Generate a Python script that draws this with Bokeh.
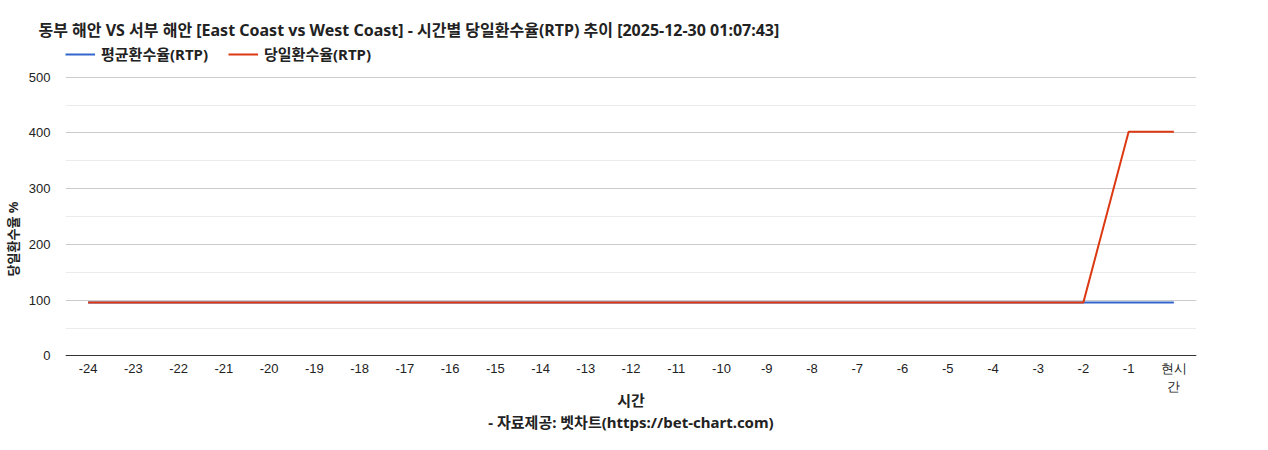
from bokeh.plotting import figure
from bokeh.models import Range1d, FixedTicker, Legend, LegendItem, Title, ColumnDataSource
from bokeh.embed import file_html
from bokeh.resources import INLINE

tick_labels = ["-24", "-23", "-22", "-21", "-20", "-19", "-18", "-17", "-16", "-15",
               "-14", "-13", "-12", "-11", "-10", "-9", "-8", "-7", "-6", "-5",
               "-4", "-3", "-2", "-1", "현시간"]
avg_rtp = [96, 96, 96, 96, 96, 96, 96, 96, 96, 96, 96, 96, 96, 96, 96, 96, 96, 96, 96, 96,
           96, 96, 96, 96, 96]
daily_rtp = [96, 96, 96, 96, 96, 96, 96, 96, 96, 96, 96, 96, 96, 96, 96, 96, 96, 96, 96, 96,
             96, 96, 96, 402, 402]
y_ticks = [0, 100, 200, 300, 400, 500]
y_minor = [50, 150, 250, 350, 450]
x_title = "시간"
footer_text = "- 자료제공: 벳차트(https://bet-chart.com)"

KR = "Noto Sans, Noto Sans CJK KR"
xs = list(range(len(tick_labels)))
src = ColumnDataSource(dict(x=xs, avg=avg_rtp, daily=daily_rtp))

# The frame spans from just above the legend to near the bottom of the figure; the x axis is
# pinned at y=0 so that the 0..500 grid occupies about the same pixels as in the reference.
GRID_H = 273      # pixels between 0 and 500
ABOVE_H = 33      # pixels of frame above the 500 line (legend area)
BELOW_H = 77      # pixels of frame below the 0 line (tick labels, axis title, footer)
y_start = -500 * BELOW_H / GRID_H
y_end = 500 * (GRID_H + ABOVE_H) / GRID_H

p = figure(width=1252, height=434, output_backend="svg", toolbar_location=None,
           x_range=Range1d(-0.5, len(tick_labels) - 0.5), y_range=Range1d(y_start, y_end),
           min_border_left=0, min_border_right=56, min_border_bottom=0, min_border_top=43)
p.outline_line_color = None
p.background_fill_color = "white"
p.border_fill_color = "white"

r_avg = p.line("x", "avg", source=src, line_color="#3366cc", line_width=2)
r_daily = p.line("x", "daily", source=src, line_color="#dc3912", line_width=2)

# axes
p.xaxis.fixed_location = 0
p.xaxis.ticker = FixedTicker(ticks=xs)
overrides = {}
for i, t in enumerate(tick_labels):
    overrides[i] = "현시\n간" if t == "현시간" else t
p.xaxis.major_label_overrides = overrides
p.xaxis.major_tick_line_color = None
p.xaxis.minor_tick_line_color = None
p.xaxis.axis_line_color = "#333333"
p.xaxis.major_label_text_font = "Liberation Sans"
p.xaxis.major_label_text_font_size = "13px"
p.xaxis.major_label_text_color = "#222222"
p.xaxis.major_label_standoff = -1
p.xaxis.axis_label = x_title + "\n" + footer_text
p.xaxis.axis_label_text_font = KR
p.xaxis.axis_label_text_font_style = "bold"
p.xaxis.axis_label_text_font_size = "15px"
p.xaxis.axis_label_text_color = "#222222"
p.xaxis.axis_label_text_line_height = 1.12
p.xaxis.axis_label_standoff = -7

p.yaxis.ticker = FixedTicker(ticks=y_ticks, minor_ticks=y_minor)
p.yaxis.major_tick_line_color = None
p.yaxis.minor_tick_line_color = None
p.yaxis.axis_line_color = None
p.yaxis.major_label_text_font = "Liberation Sans"
p.yaxis.major_label_text_font_size = "13px"
p.yaxis.major_label_text_color = "#222222"
p.yaxis.major_label_standoff = 9
p.yaxis.axis_label = "당일환수율 %"
p.yaxis.axis_label_text_font = KR
p.yaxis.axis_label_text_font_style = "bold"
p.yaxis.axis_label_text_font_size = "13px"
p.yaxis.axis_label_text_color = "#222222"
p.yaxis.axis_label_standoff = 4

p.xgrid.grid_line_color = None
p.ygrid.grid_line_color = "#cccccc"
p.ygrid.minor_grid_line_color = "#ebebeb"

legend = Legend(items=[LegendItem(label="평균환수율(RTP)", renderers=[r_avg]),
                       LegendItem(label="당일환수율(RTP)", renderers=[r_daily])],
                orientation="horizontal", location="top_left",
                label_text_font=KR, label_text_font_style="bold", label_text_font_size="15px",
                label_text_color="#222222", glyph_width=30, glyph_height=16, label_height=16,
                spacing=20, padding=0, margin=0, border_line_color=None,
                label_standoff=6, background_fill_alpha=0)
p.add_layout(legend, "center")

title = Title(text="동부 해안 VS 서부 해안 [East Coast vs West Coast] - 시간별 당일환수율(RTP) 추이 [2025-12-30 01:07:43]",
              align="left", offset=-27, text_font=KR, text_font_style="bold",
              text_font_size="16px", text_color="#222222", standoff=6)
p.add_layout(title, "above")

open("out.html", "w").write(file_html(p, INLINE))
